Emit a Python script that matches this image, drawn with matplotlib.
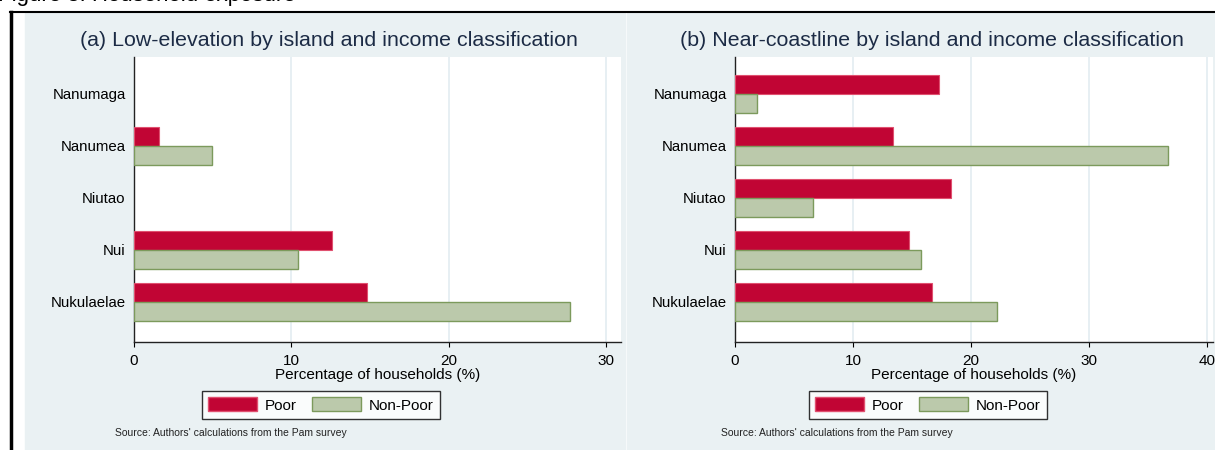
import matplotlib.pyplot as plt
from matplotlib.patches import Rectangle, Patch
from matplotlib.lines import Line2D

plt.rcParams['font.family'] = ['Liberation Sans', 'DejaVu Sans']

# data
islands = ["Nanumaga", "Nanumea", "Niutao", "Nui", "Nukulaelae"]
low_poor = [0, 1.6, 0, 12.6, 14.8]
low_nonpoor = [0, 4.95, 0, 10.45, 27.7]
coast_poor = [17.3, 13.35, 18.3, 14.75, 16.7]
coast_nonpoor = [1.9, 36.7, 6.65, 15.8, 22.2]
titles = ["(a) Low-elevation by island and income classification",
          "(b) Near-coastline by island and income classification"]
xticks_a = [0, 10, 20, 30]
xticks_b = [0, 10, 20, 30, 40]

W, H = 1215, 450
red = "#C10534"
red_edge = "#E0506F"
green = "#BBC9AB"
green_edge = "#7C9A5C"
panel_bg = "#EAF1F3"
grid_c = "#E3ECF1"
title_c = "#1C2B45"

fig = plt.figure(figsize=(W / 100, H / 100), dpi=100)


def box(x0, y0, x1, y1):
    # pixel box (top-left origin) -> figure fraction rect
    return [x0 / W, 1 - y1 / H, (x1 - x0) / W, (y1 - y0) / H]


# panel backgrounds
for x0, x1 in [(25, 625), (627, 1215)]:
    fig.patches.append(Rectangle((x0 / W, 0), (x1 - x0) / W, 1 - 13 / H,
                                 transform=fig.transFigure, color=panel_bg, zorder=-10))

# outer frame lines (cropped figure border)
fig.add_artist(Line2D([10 / W, 1], [1 - 12 / H, 1 - 12 / H], color="black", lw=1.5))
fig.add_artist(Line2D([11 / W, 11 / W], [0, 1 - 12 / H], color="black", lw=2.5))
fig.text(-2 / W, 1 - 1 / H, "Figure 3: Household exposure", fontsize=16,
         ha="left", va="baseline", color="black")

panels = [
    (box(134, 57, 621, 342), low_poor, low_nonpoor, (0, 30.95), xticks_a, 329, 321, 115),
    (box(735, 57, 1213, 342), coast_poor, coast_nonpoor, (0, 40.5), xticks_b, 932, 928, 721),
]

h = 0.37
pos = list(range(len(islands)))
for i, (rect, poor, nonpoor, xlim, xt, tx, lx, sx) in enumerate(panels):
    ax = fig.add_axes(rect)
    ax.set_facecolor("white")
    ax.barh([p - h / 2 for p in pos], poor, height=h, color=red,
            edgecolor=red_edge, linewidth=[0.8 if v > 0 else 0 for v in poor], zorder=3)
    ax.barh([p + h / 2 for p in pos], nonpoor, height=h, color=green,
            edgecolor=green_edge, linewidth=[1.0 if v > 0 else 0 for v in nonpoor], zorder=3)
    ax.set_yticks(pos)
    ax.set_yticklabels(islands, fontsize=10.8)
    ax.set_ylim(4.77, -0.71)
    ax.set_xlim(*xlim)
    ax.set_xticks(xt)
    ax.tick_params(axis="x", labelsize=11, length=3.5, width=0.8, pad=5)
    ax.tick_params(axis="y", length=0, pad=6)
    ax.grid(axis="x", color=grid_c, lw=1.2, zorder=0)
    for s in ["top", "right"]:
        ax.spines[s].set_visible(False)
    for s in ["left", "bottom"]:
        ax.spines[s].set_color("#222222")
        ax.spines[s].set_linewidth(1.0)
    ax.set_xlabel("Percentage of households (%)", fontsize=11, labelpad=0)

    fig.text(tx / W, 1 - 41 / H, titles[i], fontsize=15.4, color=title_c,
             ha="center", va="center")

    handles = [Patch(facecolor=red, edgecolor=red_edge, label="Poor"),
               Patch(facecolor=green, edgecolor=green_edge, label="Non-Poor")]
    leg = fig.legend(handles=handles, loc="center", ncol=2,
                     bbox_to_anchor=(lx / W, 1 - 405 / H), fontsize=11,
                     frameon=True, fancybox=False, edgecolor="black",
                     handlelength=3.2, handleheight=1.0, handletextpad=0.5,
                     columnspacing=1.0, borderpad=0.4)
    leg.get_frame().set_linewidth(1.0)

    fig.text(sx / W, 1 - 433 / H, "Source: Authors' calculations from the Pam survey",
             fontsize=7.5, ha="left", va="center", color="#222222")

fig.savefig("out.png", dpi=100, facecolor="white")
